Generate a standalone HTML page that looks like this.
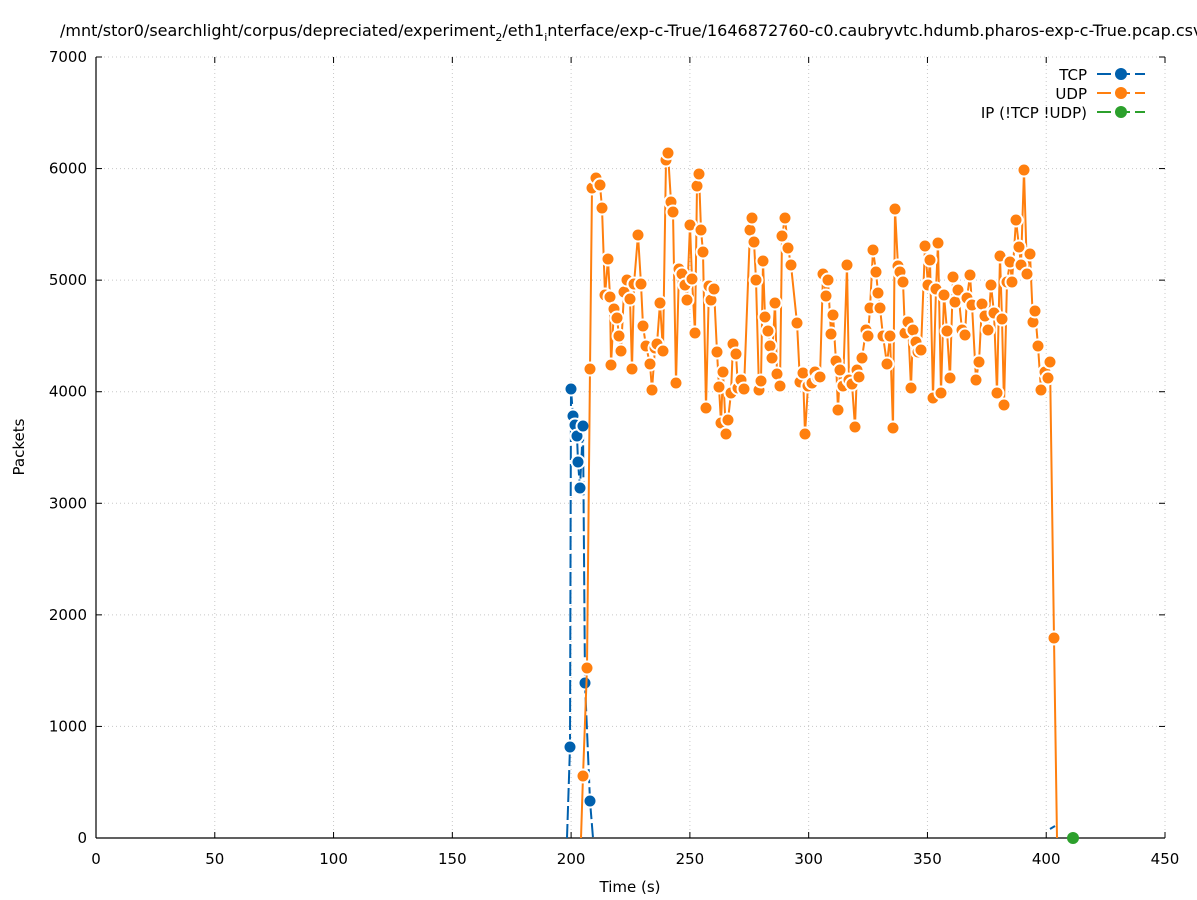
<!DOCTYPE html>
<html><head><meta charset="utf-8"><style>
html,body{margin:0;padding:0;background:#fff;overflow:hidden;}
svg{display:block;font-family:"DejaVu Sans","Liberation Sans",sans-serif;}
</style></head><body>
<svg id="s" width="1197" height="900" viewBox="0 0 1197 900" xmlns="http://www.w3.org/2000/svg">
<rect width="1197" height="900" fill="#fff"/>
<g id="grid" stroke="#c8c8c8" stroke-width="1" stroke-dasharray="1,3"></g>
<line x1="96" y1="57" x2="96" y2="838" stroke="#000" stroke-width="1.2"/>
<line x1="96" y1="838" x2="1165" y2="838" stroke="#000" stroke-width="1.2"/>
<g id="ticks" stroke="#000" stroke-width="1"></g>
<g id="labels" font-size="15" fill="#000"></g>
<text x="60" y="36" font-size="16">/mnt/stor0/searchlight/corpus/depreciated/experiment<tspan font-size="11" dy="5">2</tspan><tspan dy="-5">/eth1</tspan><tspan font-size="11" dy="5">i</tspan><tspan dy="-5">nterface/exp-c-True/1646872760-c0.caubryvtc.hdumb.pharos-exp-c-True.pcap.csv</tspan></text>
<text x="630" y="892" font-size="15" text-anchor="middle">Time (s)</text>
<text transform="translate(24,447) rotate(-90)" font-size="15" text-anchor="middle">Packets</text>
<g id="data"></g>
<g font-size="15" text-anchor="end">
<text x="1087" y="80">TCP</text>
<text x="1087" y="99">UDP</text>
<text x="1087" y="118">IP (!TCP  !UDP)</text>
</g>
<g stroke-width="2">
<line x1="1097" y1="74" x2="1145" y2="74" stroke="#0060ad" stroke-dasharray="14,5"/>
<line x1="1097" y1="93" x2="1145" y2="93" stroke="#ff7f0e" stroke-dasharray="14,5"/>
<line x1="1097" y1="112" x2="1145" y2="112" stroke="#2ca02c" stroke-dasharray="14,5"/>
</g>
<circle cx="1121" cy="74" r="6" fill="#0060ad"/>
<circle cx="1121" cy="93" r="6" fill="#ff7f0e"/>
<circle cx="1121" cy="112" r="6" fill="#2ca02c"/>
</svg>
<script>
var NS="http://www.w3.org/2000/svg";
function el(p,t,a,txt){var e=document.createElementNS(NS,t);for(var k in a)e.setAttribute(k,a[k]);if(txt!=null)e.textContent=txt;document.getElementById(p).appendChild(e);return e;}
for(var i=0;i<=9;i++){var x=96+i*1069/9;
 if(i>0)el("grid","line",{x1:x,y1:57,x2:x,y2:838});
 el("ticks","line",{x1:x,y1:838,x2:x,y2:832});el("ticks","line",{x1:x,y1:57,x2:x,y2:63});
 el("labels","text",{x:x,y:864,"text-anchor":"middle"},String(i*50));}
for(var j=0;j<=7;j++){var y=838-j*781/7;
 if(j>0)el("grid","line",{x1:96,y1:y,x2:1165,y2:y});
 el("ticks","line",{x1:96,y1:y,x2:102,y2:y});el("ticks","line",{x1:1165,y1:y,x2:1159,y2:y});
 el("labels","text",{x:87,y:y+5,"text-anchor":"end"},String(j*1000));}
var udp=[[581,838],[583,776],[587,668],[590,369],[592,188],[596,178],[600,185],[602,208],[605,295],[608,259],[610,297],[611,365],[614,309],[617,318],[619,336],[621,351],[624,292],[627,280],[630,299],[632,369],[634,284],[638,235],[641,284],[643,326],[646,346],[650,364],[652,390],[655,348],[657,344],[660,303],[663,351],[666,160],[668,153],[671,202],[673,212],[676,383],[679,269],[682,274],[685,285],[687,300],[690,225],[692,279],[695,333],[697,186],[699,174],[701,230],[703,252],[706,408],[709,286],[711,300],[714,289],[717,352],[719,387],[721,423],[723,372],[726,434],[728,420],[731,393],[733,344],[736,354],[738,388],[741,380],[744,389],[750,230],[752,218],[754,242],[756,280],[759,390],[761,381],[763,261],[765,317],[768,331],[770,346],[772,358],[775,303],[777,374],[780,386],[782,236],[785,218],[788,248],[791,265],[797,323],[800,382],[803,373],[805,434],[808,386],[812,383],[815,372],[818,378],[820,377],[823,274],[826,296],[828,280],[831,334],[833,315],[836,361],[838,410],[840,370],[843,386],[847,265],[849,380],[852,384],[855,427],[857,370],[859,377],[862,358],[866,330],[868,336],[870,308],[873,250],[876,272],[878,293],[880,308],[883,336],[887,364],[890,336],[893,428],[895,209],[898,266],[900,272],[903,282],[905,333],[908,322],[911,388],[913,330],[916,342],[918,352],[921,350],[925,246],[928,285],[930,260],[933,398],[936,289],[938,243],[941,393],[944,295],[947,331],[950,378],[953,277],[955,302],[958,290],[962,330],[965,335],[967,298],[970,275],[972,305],[976,380],[979,362],[982,304],[985,316],[988,330],[991,285],[994,313],[997,393],[1000,256],[1002,319],[1004,405],[1007,282],[1010,262],[1012,282],[1016,220],[1019,247],[1021,265],[1024,170],[1027,274],[1030,254],[1033,322],[1035,311],[1038,346],[1041,390],[1045,372],[1048,378],[1050,362],[1054,638],[1057,838]];
var tcp=[[567,838],[570,747],[571,389],[573,416],[575,425],[577,436],[578,462],[580,488],[583,426],[585,683],[590,801],[593,838]];
function series(pts,col,dash){
 el("data","polyline",{points:pts.map(function(p){return p.join(",")}).join(" "),fill:"none",stroke:col,"stroke-width":2,"stroke-dasharray":dash||"none"});
 pts.forEach(function(p,i){if(p[1]>=837&&(i==0||i==pts.length-1))return;
  el("data","circle",{cx:p[0],cy:p[1],r:6.5,fill:col,stroke:"#fff","stroke-width":2});});}
series(tcp,"#0060ad","14,4");
el("data","polyline",{points:"1050,829 1055,826",fill:"none",stroke:"#0060ad","stroke-width":2});
series(udp,"#ff7f0e");
el("data","circle",{cx:1073,cy:838,r:6,fill:"#2ca02c"});
</script>
</body></html>
